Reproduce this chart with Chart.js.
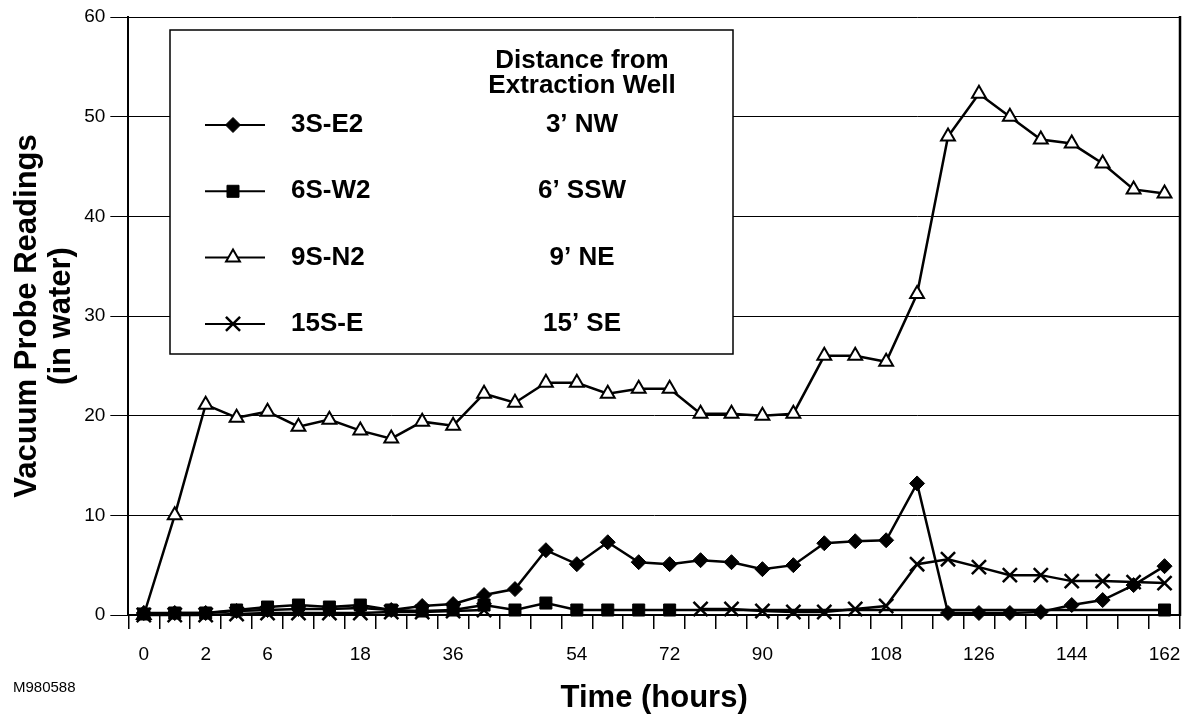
<!DOCTYPE html>
<html>
<head>
<meta charset="utf-8">
<title>Vacuum Probe Readings</title>
<script src="https://cdn.jsdelivr.net/npm/chart.js@4.4.1/dist/chart.umd.min.js"></script>
<style>
  html, body { margin: 0; padding: 0; background: #fff; }
  #chart { display: block; }
</style>
</head>
<body>
<canvas id="chart" width="1182" height="717"></canvas>
<script>
// sample times (hours); only some samples carry a label on the axis
const timeLabels = ['0', '', '2', '', '6', '', '', '18', '', '', '36', '', '', '', '54', '', '',
  '72', '', '', '90', '', '', '', '108', '', '', '126', '', '', '144', '', '', '162'];

const probeNames = ['3S-E2', '6S-W2', '9S-N2', '15S-E'];
const probeDistances = ['3’ NW', '6’ SSW', '9’ NE', '15’ SE'];

// readings, inches of water
const probe3SE2 = [0.2, 0.2, 0.2, 0.4, 0.5, 0.6, 0.6, 0.7, 0.5, 0.9, 1.1, 2.0, 2.6, 6.5, 5.1, 7.3, 5.3,
  5.1, 5.5, 5.3, 4.6, 5.0, 7.2, 7.4, 7.5, 13.2, 0.2, 0.2, 0.2, 0.3, 1.0, 1.5, 3.0, 4.9];
const probe6SW2 = [0.1, 0.2, 0.2, 0.5, 0.8, 1.0, 0.8, 1.0, 0.5, 0.4, 0.5, 1.0, 0.5, 1.2, 0.5, 0.5, 0.5,
  0.5, null, null, null, null, null, null, null, null, null, null, null, null, null, null, null, 0.5];
const probe9SN2 = [0, 10, 21.1, 19.8, 20.4, 18.9, 19.6, 18.5, 17.7, 19.4, 19.0, 22.2, 21.3, 23.3, 23.3, 22.2, 22.7,
  22.7, 20.2, 20.2, 20.0, 20.2, 26.0, 26.0, 25.4, 32.2, 48.0, 52.3, 50.0, 47.7, 47.3, 45.3, 42.7, 42.3];
const probe15SE = [0, 0, 0, 0.1, 0.2, 0.2, 0.2, 0.2, 0.3, 0.3, 0.4, 0.5, null, null, null, null, null,
  null, 0.6, 0.6, 0.4, 0.3, 0.3, 0.6, 0.9, 5.1, 5.6, 4.8, 4.0, 4.0, 3.4, 3.4, 3.3, 3.2];

const yTicks = [0, 10, 20, 30, 40, 50, 60];

const FONT = '"Liberation Sans", Arial, Helvetica, sans-serif';

const markers = [
  { pointStyle: 'rectRot', radius: 7.5, fill: '#000', border: 1 },
  { pointStyle: 'rect', radius: 8.5, fill: '#000', border: 1 },
  { pointStyle: 'triangle', radius: 8, fill: '#fff', border: 2 },
  { pointStyle: 'crossRot', radius: 10, fill: '#000', border: 2.5 }
];
const series = [probe3SE2, probe6SW2, probe9SN2, probe15SE];

const datasets = series.map((values, i) => ({
  label: probeNames[i],
  data: values,
  borderColor: '#000',
  borderWidth: 2.5,
  tension: 0,
  spanGaps: i === 1,
  clip: false,
  pointStyle: markers[i].pointStyle,
  pointRadius: markers[i].radius,
  pointBackgroundColor: markers[i].fill,
  pointBorderColor: '#000',
  pointBorderWidth: markers[i].border
}));

// boxed two-column key, right frame line and figure number
const legendBox = {
  id: 'legendBox',
  afterDatasetsDraw(chart) {
    const { ctx, chartArea } = chart;
    ctx.save();

    ctx.strokeStyle = '#000';
    ctx.lineWidth = 2.5;
    ctx.beginPath();
    ctx.moveTo(chartArea.right, chartArea.top - 1);
    ctx.lineTo(chartArea.right, chartArea.bottom + 1);
    ctx.stroke();

    const x0 = 170, y0 = 30, x1 = 733, y1 = 354;
    ctx.fillStyle = '#fff';
    ctx.fillRect(x0, y0, x1 - x0, y1 - y0);
    ctx.lineWidth = 1.5;
    ctx.strokeRect(x0, y0, x1 - x0, y1 - y0);

    ctx.font = 'bold 26px ' + FONT;
    ctx.fillStyle = '#000';
    ctx.textBaseline = 'middle';
    ctx.textAlign = 'center';
    ctx.fillText('Distance from', 582, 61);
    ctx.fillText('Extraction Well', 582, 86);

    chart.data.datasets.forEach((ds, i) => {
      const y = 125 + i * 66.3;
      ctx.strokeStyle = '#000';
      ctx.lineWidth = 2;
      ctx.beginPath();
      ctx.moveTo(205, y);
      ctx.lineTo(265, y);
      ctx.stroke();

      ctx.fillStyle = ds.pointBackgroundColor;
      ctx.lineWidth = ds.pointBorderWidth;
      Chart.helpers.drawPoint(ctx, {
        pointStyle: ds.pointStyle,
        radius: ds.pointRadius,
        borderWidth: ds.pointBorderWidth,
        rotation: 0
      }, 233, y);

      ctx.fillStyle = '#000';
      ctx.textAlign = 'left';
      ctx.fillText(probeNames[i], 291, y);
      ctx.textAlign = 'center';
      ctx.fillText(probeDistances[i], 582, y);
    });

    ctx.font = '15px ' + FONT;
    ctx.textAlign = 'left';
    ctx.textBaseline = 'alphabetic';
    ctx.fillText('M980588', 13, 692);
    ctx.restore();
  }
};

new Chart(document.getElementById('chart').getContext('2d'), {
  type: 'line',
  data: { labels: timeLabels, datasets: datasets },
  options: {
    responsive: false,
    animation: false,
    devicePixelRatio: 1,
    layout: { autoPadding: false, padding: { left: 10, right: 2, top: 17, bottom: 0 } },
    plugins: {
      legend: { display: false },
      tooltip: { enabled: false }
    },
    scales: {
      x: {
        offset: true,
        // edge labels fit inside the canvas already, keep the plot full width
        afterFit: (scale) => { scale.paddingLeft = 0; scale.paddingRight = 0; },
        grid: {
          offset: true,
          drawOnChartArea: false,
          drawTicks: true,
          tickLength: 14,
          color: '#000',
          lineWidth: 1.5
        },
        border: { display: true, color: '#000', width: 2 },
        ticks: {
          autoSkip: false,
          maxRotation: 0,
          color: '#000',
          padding: 14,
          font: { size: 19, family: FONT }
        },
        title: {
          display: true,
          text: 'Time (hours)',
          color: '#000',
          font: { size: 31, weight: 'bold', family: FONT },
          padding: { top: 0, bottom: 0 }
        }
      },
      y: {
        min: 0,
        max: 60,
        afterBuildTicks: (scale) => { scale.ticks = yTicks.map(v => ({ value: v })); },
        afterFit: (scale) => { scale.paddingTop = 0; scale.paddingBottom = 0; },
        ticks: {
          color: '#000',
          padding: 5,
          font: { size: 19, family: FONT }
        },
        grid: { color: '#000', lineWidth: 1, tickLength: 18 },
        border: { display: true, color: '#000', width: 2 },
        title: {
          display: true,
          text: ['Vacuum Probe Readings', '(in water)'],
          color: '#000',
          font: { size: 31, weight: 'bold', family: FONT, lineHeight: 1.1 },
          padding: { top: 0, bottom: 1 }
        }
      }
    }
  },
  plugins: [legendBox]
});
</script>
</body>
</html>
